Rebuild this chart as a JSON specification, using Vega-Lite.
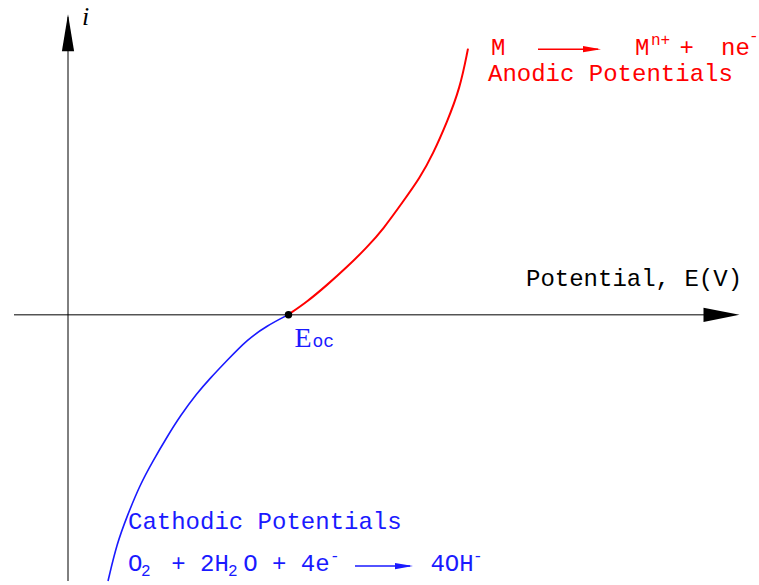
{
  "$schema": "https://vega.github.io/schema/vega-lite/v6.json",
  "width": 759,
  "height": 585,
  "padding": 0,
  "autosize": {"type": "fit", "contains": "padding"},
  "background": "white",
  "config": {"view": {"stroke": null}},
  "datasets": {
    "axisLines": [
      {"E": -54, "i": 0, "E2": 640, "i2": 0},
      {"E": 0, "i": -268, "E2": 0, "i2": 300}
    ],
    "xHead": [{"E": 653.5, "i": 0}],
    "yHead": [{"E": 0, "i": 284}],
    "anodic": [
      {"E": 220, "i": 0},
      {"E": 239, "i": 13},
      {"E": 259, "i": 30},
      {"E": 279, "i": 48},
      {"E": 299, "i": 68},
      {"E": 315, "i": 86},
      {"E": 335, "i": 114},
      {"E": 352, "i": 138},
      {"E": 365, "i": 162},
      {"E": 379, "i": 194},
      {"E": 392, "i": 228},
      {"E": 400, "i": 268}
    ],
    "cathodic": [
      {"E": 220, "i": 0},
      {"E": 199, "i": -11},
      {"E": 179, "i": -25},
      {"E": 159, "i": -46},
      {"E": 142, "i": -64},
      {"E": 129, "i": -79},
      {"E": 112, "i": -102},
      {"E": 99, "i": -123},
      {"E": 85, "i": -147},
      {"E": 72, "i": -171},
      {"E": 59, "i": -203},
      {"E": 49, "i": -230},
      {"E": 40, "i": -268}
    ],
    "eoc": [{"E": 220.5, "i": 0}],
    "redArrow": [{"E": 470, "i": 267.5, "E2": 530, "i2": 267.5}],
    "redArrowHead": [{"E": 524, "i": 267.5}],
    "blueArrow": [{"E": 287, "i": -253, "E2": 342, "i2": -253}],
    "blueArrowHead": [{"E": 336, "i": -253}],
    "redText": [
      {"E": 423, "i": 262, "label": "M"},
      {"E": 567, "i": 262, "label": "M"},
      {"E": 611.5, "i": 262, "label": "+"},
      {"E": 653, "i": 262, "label": "ne"},
      {"E": 420, "i": 235, "label": "Anodic Potentials"}
    ],
    "redSmall": [
      {"E": 583, "i": 272, "label": "n+"},
      {"E": 681, "i": 275.5, "label": "-"}
    ],
    "blueText": [
      {"E": 60, "i": -216, "label": "Cathodic Potentials"},
      {"E": 60, "i": -258, "label": "O"},
      {"E": 103.2, "i": -258, "label": "+"},
      {"E": 132, "i": -258, "label": "2H"},
      {"E": 175.2, "i": -258, "label": "O"},
      {"E": 204, "i": -258, "label": "+"},
      {"E": 232.8, "i": -258, "label": "4e"},
      {"E": 362.4, "i": -258, "label": "4OH"}
    ],
    "blueSmall": [
      {"E": 73, "i": -263, "label": "2"},
      {"E": 160, "i": -263, "label": "2"},
      {"E": 262, "i": -248, "label": "-"},
      {"E": 405, "i": -248, "label": "-"}
    ],
    "axisTitle": [{"E": 458, "i": 29, "label": "Potential, E(V)"}],
    "eocMain": [{"E": 226.5, "i": -32, "label": "E"}],
    "eocSub": [{"E": 244.5, "i": -32, "label": "oc"}],
    "iTitle": [{"E": 14, "i": 292, "label": "i"}]
  },
  "encoding": {
    "x": {"field": "E", "type": "quantitative", "scale": {"domain": [-68, 691], "nice": false, "zero": false}, "axis": null},
    "y": {"field": "i", "type": "quantitative", "scale": {"domain": [-268, 317], "nice": false, "zero": false}, "axis": null}
  },
  "layer": [
    {
      "data": {"name": "axisLines"},
      "mark": {"type": "rule", "color": "#000000", "strokeWidth": 1},
      "encoding": {"x2": {"field": "E2"}, "y2": {"field": "i2"}}
    },
    {
      "data": {"name": "xHead"},
      "mark": {"type": "point", "shape": "M -1 -0.4 L -1 0.4 L 1 0 Z", "size": 1296, "filled": true, "color": "#000000", "opacity": 1},
      "encoding": {}
    },
    {
      "data": {"name": "yHead"},
      "mark": {"type": "point", "shape": "M -0.33 1 L 0 -1 L 0.33 1 Z", "size": 1369, "filled": true, "color": "#000000", "opacity": 1},
      "encoding": {}
    },
    {
      "data": {"name": "anodic"},
      "mark": {"type": "line", "color": "#ff0000", "strokeWidth": 2, "interpolate": "basis"},
      "encoding": {"order": {"field": "i", "type": "quantitative"}}
    },
    {
      "data": {"name": "cathodic"},
      "mark": {"type": "line", "color": "#1a1aff", "strokeWidth": 1.6, "interpolate": "basis"},
      "encoding": {"order": {"field": "i", "type": "quantitative"}}
    },
    {
      "data": {"name": "eoc"},
      "mark": {"type": "point", "shape": "circle", "size": 55, "filled": true, "color": "#000000", "opacity": 1},
      "encoding": {}
    },
    {
      "data": {"name": "redArrow"},
      "mark": {"type": "rule", "color": "#ff0000", "strokeWidth": 1.5},
      "encoding": {"x2": {"field": "E2"}, "y2": {"field": "i2"}}
    },
    {
      "data": {"name": "redArrowHead"},
      "mark": {"type": "point", "shape": "M -1 -0.35 L -1 0.35 L 1 0 Z", "size": 324, "filled": true, "color": "#ff0000", "opacity": 1},
      "encoding": {}
    },
    {
      "data": {"name": "blueArrow"},
      "mark": {"type": "rule", "color": "#1a1aff", "strokeWidth": 1.5},
      "encoding": {"x2": {"field": "E2"}, "y2": {"field": "i2"}}
    },
    {
      "data": {"name": "blueArrowHead"},
      "mark": {"type": "point", "shape": "M -1 -0.35 L -1 0.35 L 1 0 Z", "size": 324, "filled": true, "color": "#1a1aff", "opacity": 1},
      "encoding": {}
    },
    {
      "data": {"name": "redText"},
      "mark": {"type": "text", "align": "left", "baseline": "alphabetic", "font": "Liberation Mono", "fontSize": 24, "color": "#ff0000"},
      "encoding": {"text": {"field": "label"}}
    },
    {
      "data": {"name": "redSmall"},
      "mark": {"type": "text", "align": "left", "baseline": "alphabetic", "font": "Liberation Mono", "fontSize": 16, "color": "#ff0000"},
      "encoding": {"text": {"field": "label"}}
    },
    {
      "data": {"name": "blueText"},
      "mark": {"type": "text", "align": "left", "baseline": "alphabetic", "font": "Liberation Mono", "fontSize": 24, "color": "#1a1aff"},
      "encoding": {"text": {"field": "label"}}
    },
    {
      "data": {"name": "blueSmall"},
      "mark": {"type": "text", "align": "left", "baseline": "alphabetic", "font": "Liberation Mono", "fontSize": 16, "color": "#1a1aff"},
      "encoding": {"text": {"field": "label"}}
    },
    {
      "data": {"name": "axisTitle"},
      "mark": {"type": "text", "align": "left", "baseline": "alphabetic", "font": "Liberation Mono", "fontSize": 24, "color": "#000000"},
      "encoding": {"text": {"field": "label"}}
    },
    {
      "data": {"name": "eocMain"},
      "mark": {"type": "text", "align": "left", "baseline": "alphabetic", "font": "Liberation Serif", "fontSize": 28, "color": "#1a1aff"},
      "encoding": {"text": {"field": "label"}}
    },
    {
      "data": {"name": "eocSub"},
      "mark": {"type": "text", "align": "left", "baseline": "alphabetic", "font": "Liberation Mono", "fontSize": 18, "color": "#1a1aff"},
      "encoding": {"text": {"field": "label"}}
    },
    {
      "data": {"name": "iTitle"},
      "mark": {"type": "text", "align": "left", "baseline": "alphabetic", "font": "Liberation Serif", "fontSize": 26, "fontStyle": "italic", "color": "#000000"},
      "encoding": {"text": {"field": "label"}}
    }
  ]
}
